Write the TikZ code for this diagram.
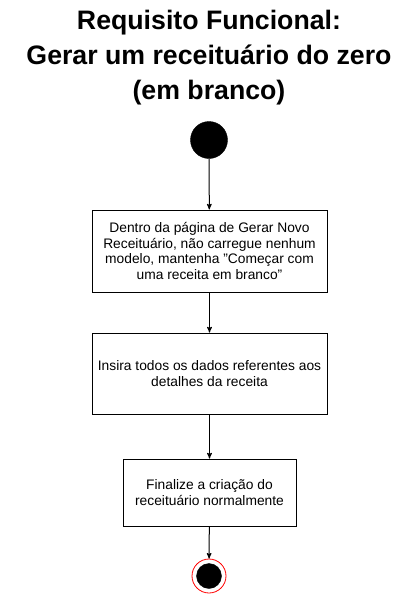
\documentclass[tikz,border=0pt]{standalone}
\usepackage{fontspec}
\setmainfont{Liberation Sans}
\usepackage{tikz}
\usetikzlibrary{positioning,arrows,shapes}
\tikzset{
    >=stealth',
    passo/.style={
        rectangle,
        draw=black, line width=1pt,
        fill=white,
        align=center,
        inner sep=0pt,
        font={\fontsize{13.8pt}{15.5pt}\selectfont}
    },
    inicio/.style={circle, fill=black, draw=black, minimum size=37pt, inner sep=0pt},
    fim/.style={circle, fill=white, draw=red, line width=0.8pt, minimum size=34pt, inner sep=0pt},
    fimdentro/.style={circle, fill=black, draw=black, minimum size=25pt, inner sep=0pt},
    line/.style={draw, line width=1pt, -{stealth'[scale=1.6]}},
}
\begin{document}
\begin{tikzpicture}[x=1pt, y=-1pt]
\useasboundingbox[fill=white] (0,0) rectangle (418,606);
\node(titulo) at (209,58)[align=center, font={\fontsize{26.7pt}{35pt}\selectfont\bfseries}]
    {Requisito Funcional:\\Gerar um receituário do zero\\(em branco)};
\node(ini) at (209,140)[inicio]{};
\node(p1) at (209.5,251)[passo, minimum width=235pt, minimum height=82pt]
    {Dentro da página de Gerar Novo\\Receituário, não carregue nenhum\\modelo, mantenha "Começar com\\uma receita em branco"};
\node(p2) at (209.5,373.5)[passo, minimum width=235pt, minimum height=81pt]
    {Insira todos os dados referentes aos\\detalhes da receita};
\node(p3) at (209.5,492.5)[passo, minimum width=173pt, minimum height=67pt]
    {Finalize a criação do\\receituário normalmente};
\node(fim) at (209,576)[fim]{};
\node(fimd) at (fim.center)[fimdentro]{};
\path[line] (ini) -- (p1);
\path[line] (p1) -- (p2);
\path[line] (p2) -- (p3);
\path[line] (p3) -- (fim);
\end{tikzpicture}
\end{document}
